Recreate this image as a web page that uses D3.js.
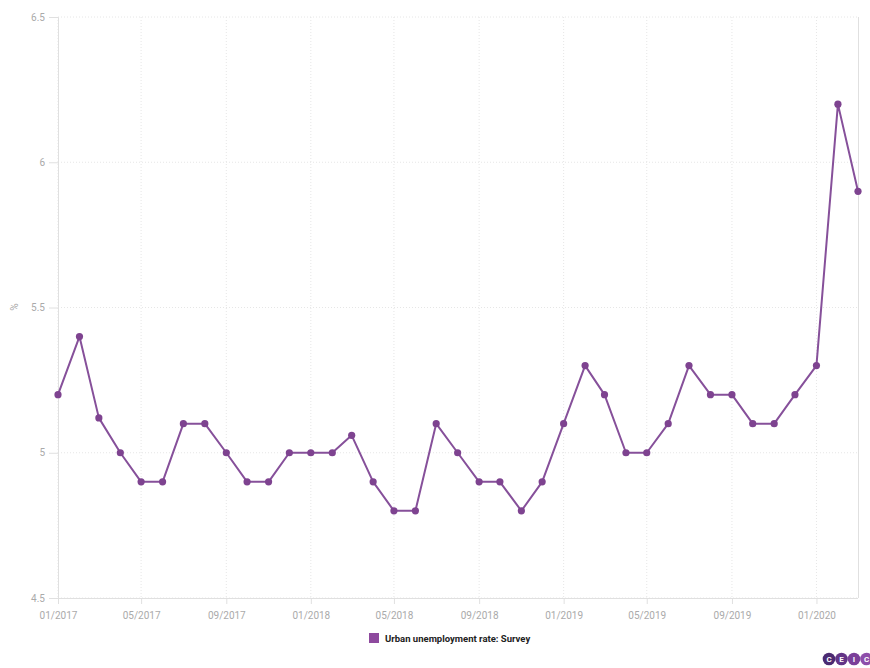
<!DOCTYPE html>
<html><head><meta charset="utf-8">
<script src="https://cdn.jsdelivr.net/npm/d3@7"></script>
<style>html,body{margin:0;padding:0;background:#fff;}svg{display:block;font-family:Roboto,sans-serif;}</style>
</head><body>
<svg id="c" width="870" height="668"></svg>
<script>
const months = ["01/2017","02/2017","03/2017","04/2017","05/2017","06/2017","07/2017","08/2017","09/2017","10/2017","11/2017","12/2017",
"01/2018","02/2018","03/2018","04/2018","05/2018","06/2018","07/2018","08/2018","09/2018","10/2018","11/2018","12/2018",
"01/2019","02/2019","03/2019","04/2019","05/2019","06/2019","07/2019","08/2019","09/2019","10/2019","11/2019","12/2019",
"01/2020","02/2020","03/2020"];
const values = [5.2,5.4,5.12,5.0,4.9,4.9,5.1,5.1,5.0,4.9,4.9,5.0,
5.0,5.0,5.06,4.9,4.8,4.8,5.1,5.0,4.9,4.9,4.8,4.9,
5.1,5.3,5.2,5.0,5.0,5.1,5.3,5.2,5.2,5.1,5.1,5.2,
5.3,6.2,5.9];
const xTickLabels = ["01/2017","05/2017","09/2017","01/2018","05/2018","09/2018","01/2019","05/2019","09/2019","01/2020"];
const yTicks = [4.5,5,5.5,6,6.5];
const yTickLabels = ["4.5","5","5.5","6","6.5"];
const seriesName = "Urban unemployment rate: Survey";
const unitLabel = "%";

const svg = d3.select("#c");
const L=58, R=858, T=17, B=598;
const parse = d3.timeParse("%m/%Y");
const dates = months.map(parse);
const x = d3.scaleTime().domain([dates[0], dates[dates.length-1]]).range([L,R]);
const y = d3.scaleLinear().domain([4.5,6.5]).range([B,T]);
const xTicks = xTickLabels.map(parse);

// grid
const g = svg.append("g");
g.selectAll(".hg").data(yTicks).join("line")
 .attr("x1",L).attr("x2",R).attr("y1",d=>y(d)).attr("y2",d=>y(d))
 .attr("stroke","#e6e6e6").attr("stroke-dasharray","1,2").attr("stroke-width",1);
g.selectAll(".vg").data(xTicks).join("line")
 .attr("x1",d=>x(d)).attr("x2",d=>x(d)).attr("y1",T).attr("y2",B)
 .attr("stroke","#e6e6e6").attr("stroke-dasharray","1,2").attr("stroke-width",1);

// right border
svg.append("line").attr("x1",R+0.5).attr("x2",R+0.5).attr("y1",T).attr("y2",B).attr("stroke","#e0e0e0");

// axes
const yAxis = d3.axisLeft(y).tickValues(yTicks).tickFormat((d,i)=>yTickLabels[i]).tickSize(9).tickPadding(4);
const ya = svg.append("g").attr("transform",`translate(${L},0)`).call(yAxis);
ya.select(".domain").attr("stroke","#e0e0e0");
ya.selectAll(".tick line").attr("stroke","#e0e0e0");
ya.selectAll(".tick text").attr("fill","#aaa").attr("font-size","10px").attr("font-family","Roboto");

const xAxis = d3.axisBottom(x).tickValues(xTicks).tickFormat((d,i)=>xTickLabels[i]).tickSize(6).tickPadding(8);
const xa = svg.append("g").attr("transform",`translate(0,${B})`).call(xAxis);
xa.select(".domain").attr("stroke","#e0e0e0").attr("d",`M${L},0.5H${R}`);
xa.selectAll(".tick line").attr("stroke","#e0e0e0");
xa.selectAll(".tick text").attr("fill","#aaa").attr("font-size","10px").attr("font-family","Roboto");

svg.append("text").attr("transform","translate(18,307) rotate(-90)").attr("text-anchor","middle")
 .attr("fill","#aaa").attr("font-size","10px").text(unitLabel);

// line
const line = d3.line().x((d,i)=>x(dates[i])).y(d=>y(d));
svg.append("path").datum(values).attr("d",line).attr("fill","none").attr("stroke","#86509a").attr("stroke-width",2).attr("stroke-linejoin","round");
svg.selectAll(".pt").data(values).join("circle").attr("cx",(d,i)=>x(dates[i])).attr("cy",d=>y(d)).attr("r",3.6).attr("fill","#7e4390");

// legend
const lg = svg.append("g").attr("transform","translate(369,633)");
lg.append("rect").attr("width",10).attr("height",10).attr("fill","#8e4a9e");
lg.append("text").attr("x",16).attr("y",8.5).attr("font-size","9.5px").attr("font-weight","700").attr("fill","#222").text(seriesName);

// CEIC logo
const logoLetters = ["C","E","I","C"];
const logoColors = ["#4b2a72","#633487","#7a3f99","#8e4eaa"];
const lgo = svg.append("g");
lgo.selectAll("circle").data(logoLetters).join("circle").attr("cx",(d,i)=>829+i*12.5).attr("cy",659).attr("r",6.3).attr("fill",(d,i)=>logoColors[i]);
lgo.selectAll("text").data(logoLetters).join("text").attr("x",(d,i)=>829+i*12.5).attr("y",662).attr("text-anchor","middle")
 .attr("font-size","8px").attr("font-weight","700").attr("fill","#fff").text(d=>d);
</script>
</body></html>
